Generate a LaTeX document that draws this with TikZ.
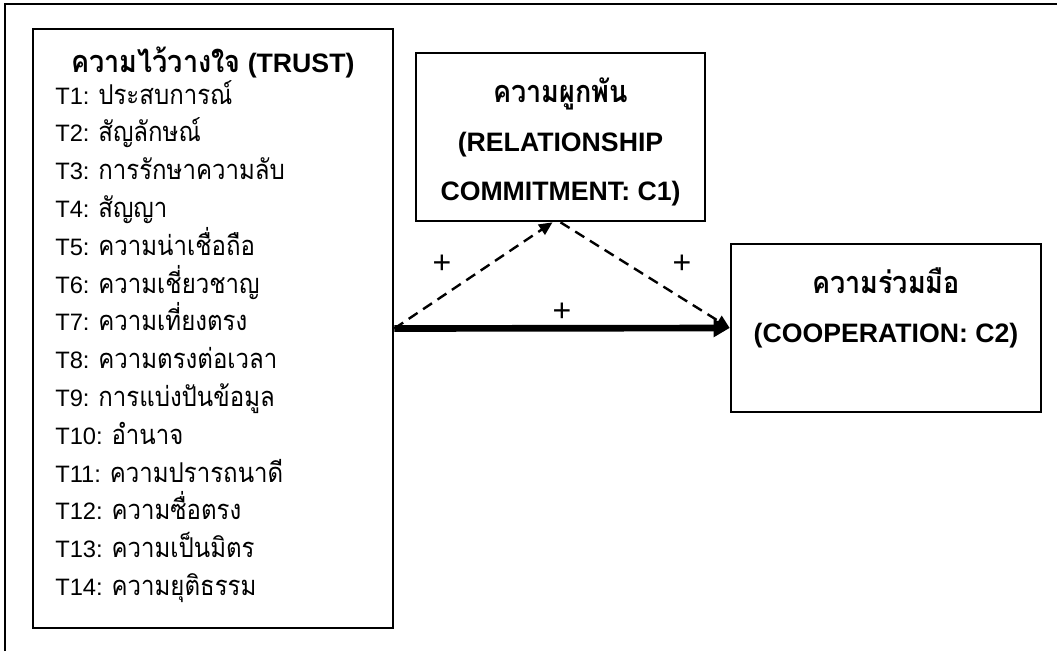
\documentclass[tikz,border=0pt]{standalone}
\usepackage{fontspec}
\setmainfont{Liberation Sans}
\newfontfamily\thai[Script=Thai,Scale=1.15,FakeStretch=0.88]{Loma}
\usetikzlibrary{arrows.meta,calc}
\begin{document}
\begin{tikzpicture}[x=0.75pt,y=-0.75pt,
  box/.style={draw, line width=2pt, inner sep=0pt, fill=white},
  item/.style={inner sep=0pt, anchor=base west, font=\fontsize{17.8}{21}\selectfont},
  head/.style={inner sep=0pt, anchor=base, font=\fontsize{20}{24}\selectfont\bfseries},
  plus/.style={inner sep=0pt, font=\fontsize{24}{26}\selectfont},
  dasharrow/.style={line width=1.8pt, dash pattern=on 8pt off 5pt, -{Triangle[length=10pt,width=9pt]}},
  mainarrow/.style={line width=5pt, -{Triangle[length=12pt,width=13pt]}}]
\useasboundingbox (0,0) rectangle (1057,651);
\fill[white] (0,0) rectangle (1057,651);
% outer frame
\draw[line width=2pt] (5,651) -- (5,4) -- (1057,4);
% boxes
\node[box, minimum width=270pt, minimum height=449.25pt] (trust) at (213,328.5) {};
\node[box, minimum width=216.75pt, minimum height=126pt] (commit) at (560.5,137) {};
\node[box, minimum width=232.5pt, minimum height=126pt] (coop) at (886,328) {};
% left box texts
\node[head] (trusttitle) at (213,72) {{\thai ความไว้วางใจ} (TRUST)};
\foreach [count=\i] \s in {ประสบการณ์,สัญลักษณ์,การรักษาความลับ,สัญญา,ความน่าเชื่อถือ,ความเชี่ยวชาญ,ความเที่ยงตรง,ความตรงต่อเวลา,การแบ่งปันข้อมูล,อำนาจ,ความปรารถนาดี,ความซื่อตรง,ความเป็นมิตร,ความยุติธรรม}
  \node[item] (t\i) at (55,{104+37.8*(\i-1)}) {T\i: {\thai \s}};
% top box texts
\node[head] (c1a) at (560.5,102) {\thai ความผูกพัน};
\node[head] (c1b) at (560.5,151) {(RELATIONSHIP};
\node[head] (c1c) at (560.5,200) {COMMITMENT: C1)};
% right box texts
\node[head] (c2a) at (886,293) {\thai ความร่วมมือ};
\node[head] (c2b) at (886,342) {(COOPERATION: C2)};
% connectors
\coordinate (ctip) at ($(commit.south)+(-8,0)$);
\coordinate (cstart) at (commit.south);
\draw[mainarrow] (trust.east) -- (coop.west);
\draw[dasharrow] (trust.east) -- (ctip);
\draw[dasharrow] (cstart) -- (coop.west);
% labels
\node[plus] (p1) at (442,264) {+};
\node[plus] (p2) at (682,264) {+};
\node[plus] (p3) at (562,312) {+};
\end{tikzpicture}
\end{document}
